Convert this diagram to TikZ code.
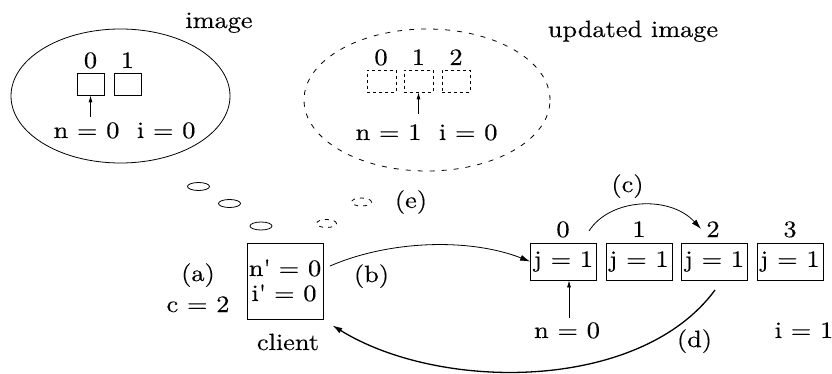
\documentclass[tikz,border=0pt]{standalone}
\usepackage{fontspec}
\setmainfont{lmroman10-regular.otf}[FakeStretch=1.12, FakeBold=0.35]
\usetikzlibrary{arrows.meta,shapes.geometric}
\begin{document}
\begin{tikzpicture}[x=1pt,y=-1pt,
  txt/.style={font=\fontsize{23.5}{26}\selectfont, inner sep=0pt},
  bl/.style={txt, anchor=base},
  cloud/.style={ellipse, draw, line width=0.8pt, inner sep=0pt},
  dashcloud/.style={cloud, dash pattern=on 5pt off 7pt},
  puff/.style={ellipse, draw, line width=0.8pt, inner sep=0pt, minimum width=22pt, minimum height=8pt},
  dashpuff/.style={puff, dash pattern=on 4pt off 5pt},
  slot/.style={draw, line width=0.7pt, inner sep=0pt, minimum width=27pt, minimum height=22pt},
  dashslot/.style={slot, dash pattern=on 3pt off 3pt},
  cell/.style={draw, line width=0.7pt, inner sep=0pt, minimum width=66pt, minimum height=37pt, txt},
  tip/.style={-{Latex[length=7pt,width=4pt]}, line width=0.7pt},
  bigtip/.style={-{Latex[length=10pt,width=6pt]}, line width=0.8pt},
]
\useasboundingbox (0,0) rectangle (832,374);

% ---- the current image (solid cloud) ----
\node[cloud, minimum width=219pt, minimum height=134pt] (img) at (120.5,96) {};
\node[bl] (imgname) at (219,28) {image};
\node[slot] (s0) at (90.5,84) {};
\node[slot] (s1) at (127.5,84) {};
\node[bl] (s0l) at (90.5,68) {0};
\node[bl] (s1l) at (127.5,68) {1};
\node[bl] (imgvars) at (124.5,138) {n = 0\ \ i = 0};
\coordinate (imgarr) at (90.5,117);
\draw[tip] (imgarr) -- (s0.south);

% ---- the updated image (dashed cloud) ----
\node[dashcloud, minimum width=246pt, minimum height=142pt] (upd) at (427,100) {};
\node[bl] (updname) at (633,37) {updated image};
\node[dashslot, minimum width=29pt] (u0) at (381.5,81) {};
\node[dashslot, minimum width=29pt] (u1) at (418.5,81) {};
\node[dashslot, minimum width=28pt] (u2) at (456,81) {};
\node[bl] (u0l) at (381,65) {0};
\node[bl] (u1l) at (418.5,65) {1};
\node[bl] (u2l) at (456,65) {2};
\node[bl] (updvars) at (426.5,140) {n = 1\ \ i = 0};
\coordinate (updarr) at (418.5,114);
\draw[tip] (updarr) -- (u1.south);

% ---- thought puffs ----
\node[puff] (p1) at (198.5,186.5) {};
\node[puff] (p2) at (229.5,203.5) {};
\node[puff] (p3) at (261,226) {};
\node[dashpuff, minimum width=20pt] (p4) at (326.5,223.5) {};
\node[dashpuff, minimum width=20pt] (p5) at (361.5,202) {};
\node[txt] (e) at (411,202) {(e)};

% ---- client ----
\node[draw, line width=0.7pt, minimum width=76pt, minimum height=76pt, inner sep=0pt] (client) at (285,281) {};
\node[bl] (cn) at (285,276) {n\textquotesingle\ = 0};
\node[bl] (ci) at (284,301) {i\textquotesingle\ = 0};
\node[bl] (clientname) at (288,350) {client};
\node[bl] (a) at (198,281) {(a)};
\node[bl] (c2) at (198,312) {c = 2};
\node[bl] (b) at (371.5,282) {(b)};

% ---- server array ----
\node[cell] (c0) at (563.5,261.5) {j = 1};
\node[cell] (c1) at (639,261.5) {j = 1};
\node[cell] (c2cell) at (714.5,261.5) {j = 1};
\node[cell] (c3) at (790,261.5) {j = 1};
\node[bl] (l0) at (563,237) {0};
\node[bl] (l1) at (639,237) {1};
\node[bl] (l2) at (713,237) {2};
\node[bl] (l3) at (790,237) {3};
\node[bl] (nsrv) at (567,338) {n = 0};
\node[bl] (isrv) at (804,338) {i = 1};
\node[bl] (cl) at (627.5,192) {(c)};
\node[bl] (dl) at (694.5,347) {(d)};
\coordinate (narr) at (569,318);
\draw[tip] (narr) -- (c0.south -| narr);

% ---- connectors ----
\coordinate (bstart) at (330,266);
\draw[bigtip] (bstart) .. controls (390,240) and (470,238) .. (c0.west);
\coordinate (cstart) at (589,231);
\coordinate (cend) at (701,229);
\draw[bigtip] (cstart) .. controls (610,198) and (670,195) .. (cend);
\coordinate (dstart) at (715,290);
\draw[bigtip, line width=1.3pt] (dstart) .. controls (640,392) and (440,392) .. ([xshift=9pt,yshift=-6pt]client.south east);
\end{tikzpicture}
\end{document}
